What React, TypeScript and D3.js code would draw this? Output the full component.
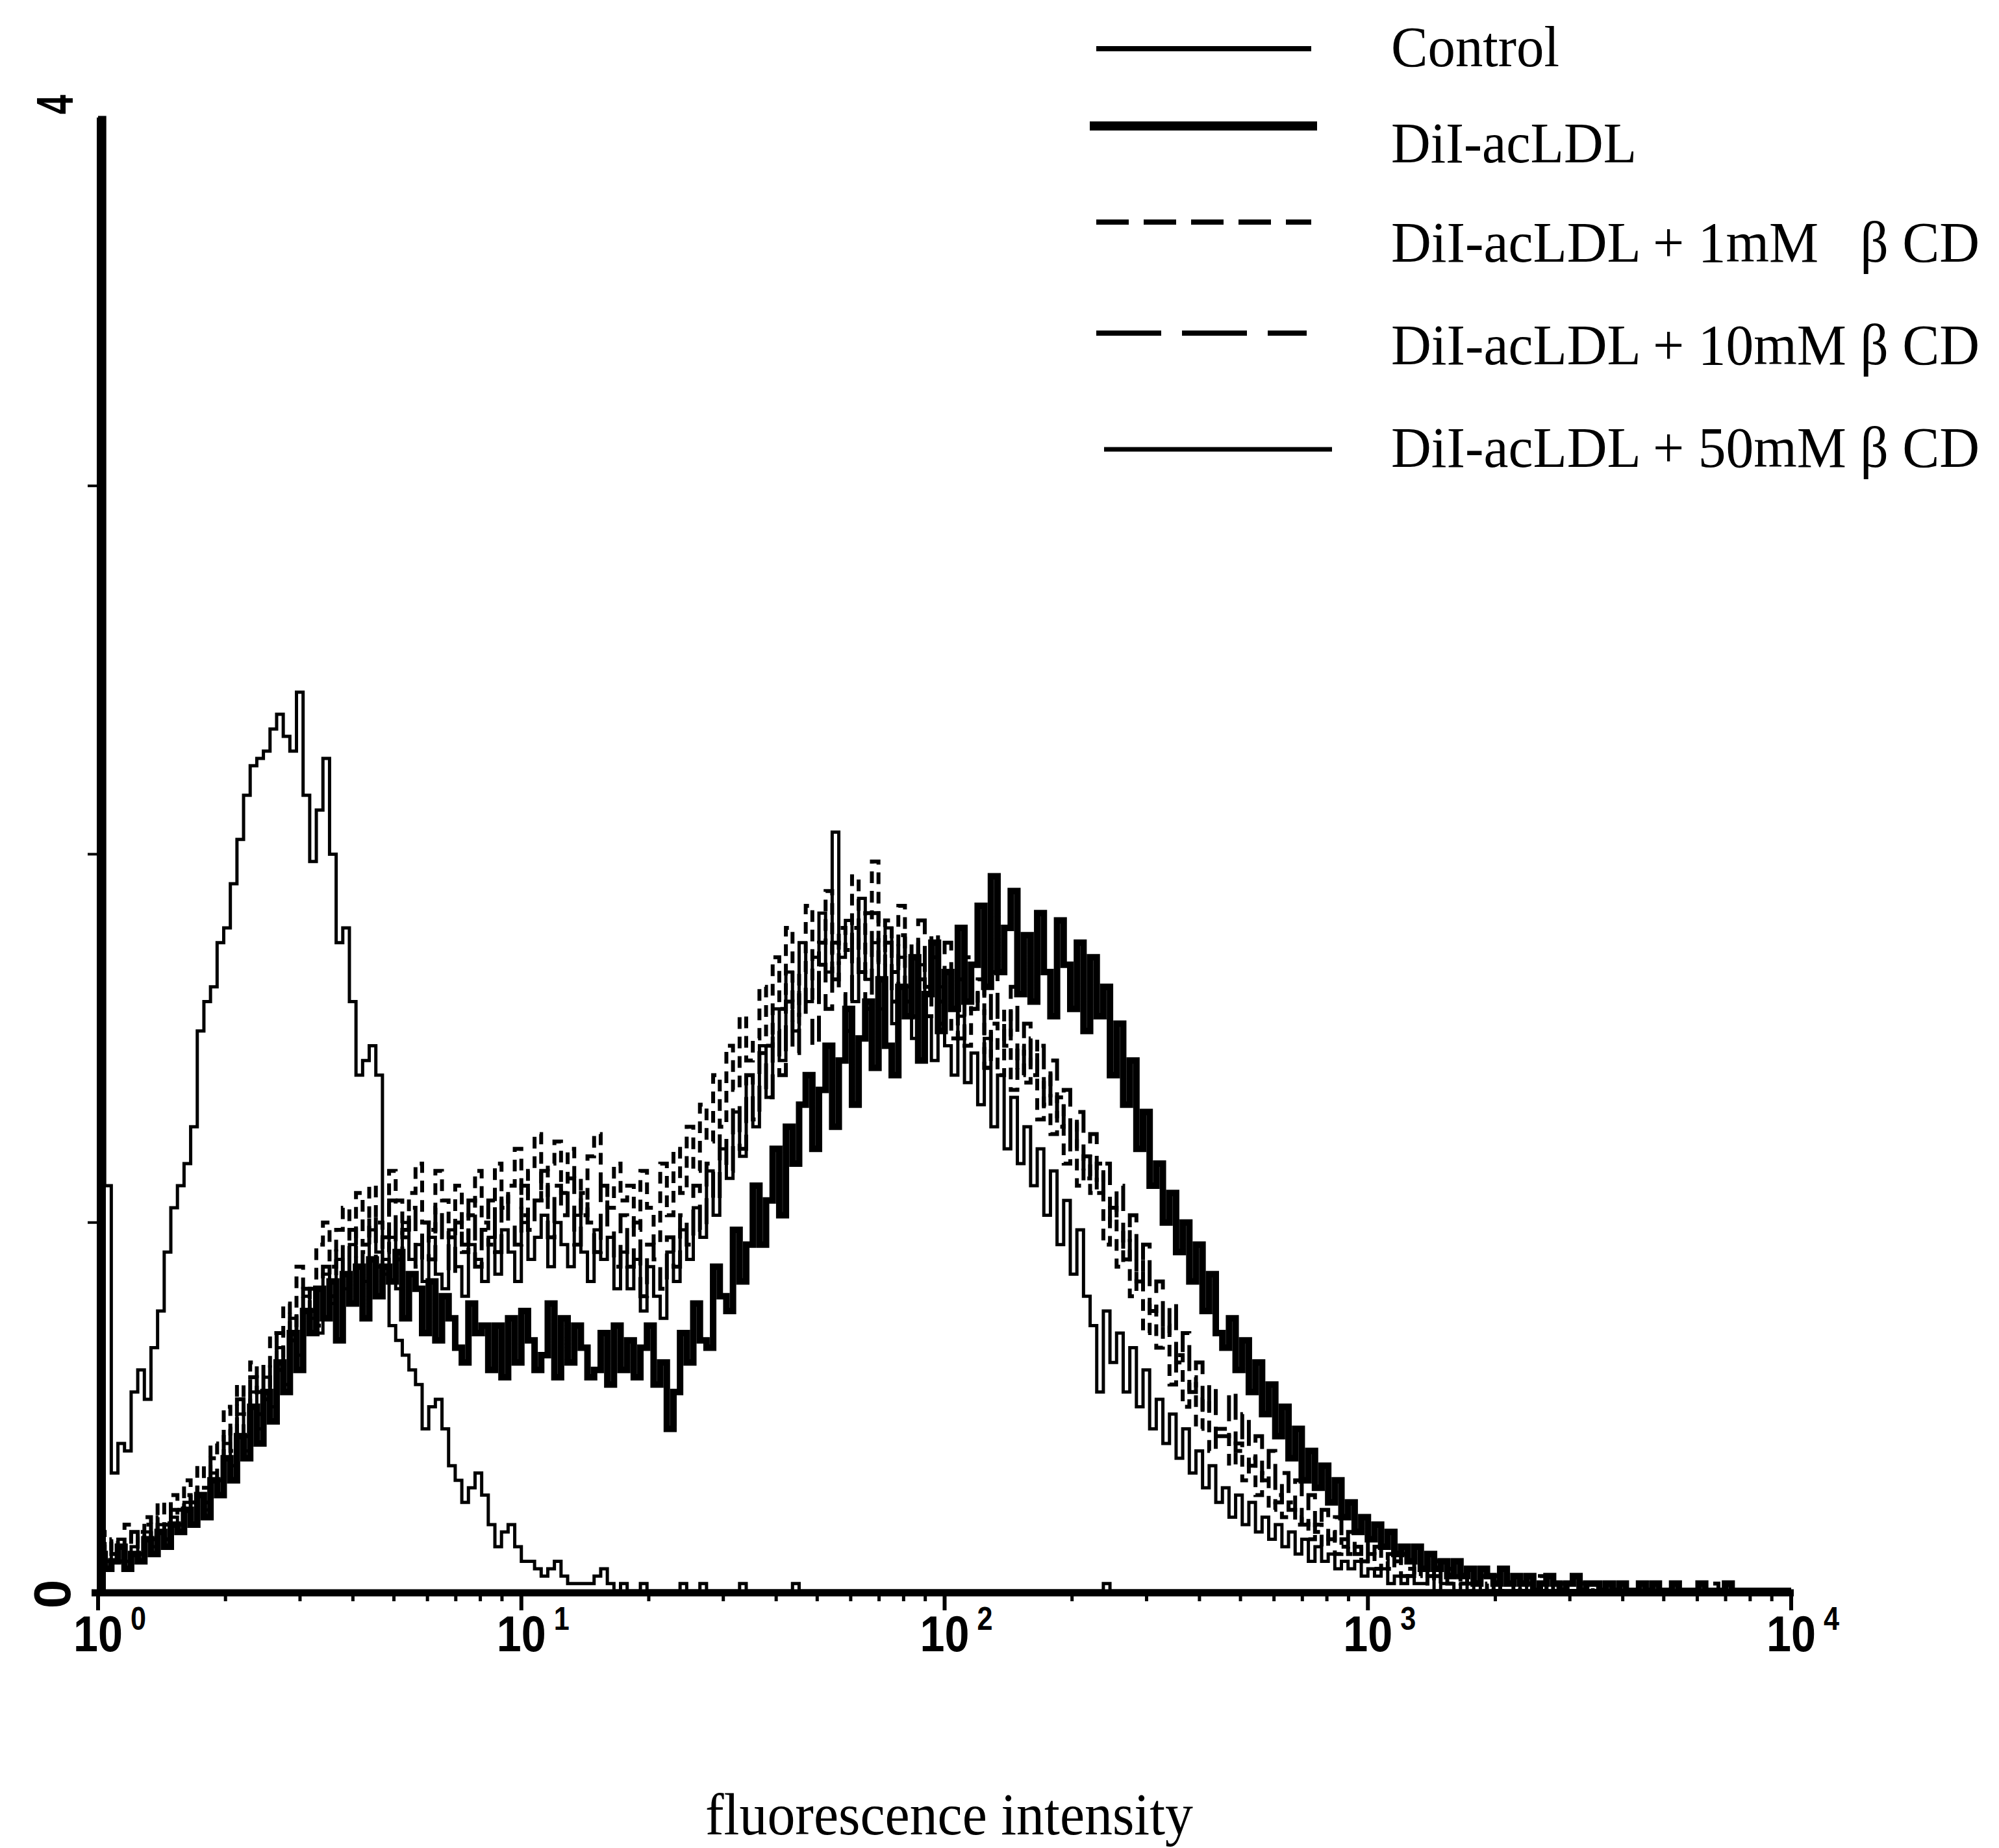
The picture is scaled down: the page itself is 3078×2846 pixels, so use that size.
import React from "react";
import * as d3 from "d3";

// ---- data (256 log channels over 4 decades, counts scaled so axis top = 200) ----
const SERIES_NAMES = [
  "Control",
  "DiI-acLDL",
  "DiI-acLDL + 1mM   β CD",
  "DiI-acLDL + 10mM β CD",
  "DiI-acLDL + 50mM β CD",
];

const CONTROL = [
  200, 55, 16, 20, 19, 27, 30, 26, 33, 38,
  46, 52, 55, 58, 63, 76, 80, 82, 88, 90,
  96, 102, 108, 112, 113, 114, 117, 119, 116, 114,
  122, 108, 99, 106, 113, 100, 88, 90, 80, 70,
  72, 74, 70, 45, 36, 34, 32, 30, 28, 22,
  25, 26, 22, 17, 15, 12, 14, 16, 13, 9,
  6, 8, 9, 6, 4, 4, 3, 2, 3, 4,
  2, 1, 1, 1, 1, 2, 3, 1, 0, 1,
  0, 0, 1, 0, 0, 0, 0, 0, 1, 0,
  0, 1, 0, 0, 0, 0, 0, 1, 0, 0,
  0, 0, 0, 0, 0, 1, 0, 0, 0, 0,
  0, 0, 0, 0, 0, 0, 0, 0, 0, 0,
  0, 0, 0, 0, 0, 0, 0, 0, 0, 0,
  0, 0, 0, 0, 0, 0, 0, 0, 0, 0,
  0, 0, 0, 0, 0, 0, 0, 0, 0, 0,
  0, 0, 1, 0, 0, 0, 0, 0, 0, 0,
  0, 0, 0, 0, 0, 0, 0, 0, 0, 0,
  0, 0, 0, 0, 0, 0, 0, 0, 0, 0,
  0, 0, 0, 0, 0, 0, 0, 0, 0, 0,
  0, 0, 0, 0, 0, 0, 0, 0, 0, 0,
  0, 0, 0, 0, 0, 0, 0, 0, 0, 0,
  0, 0, 0, 0, 0, 0, 0, 0, 0, 0,
  0, 0, 0, 0, 0, 0, 0, 0, 0, 0,
  0, 0, 0, 0, 0, 0, 0, 0, 0, 0,
  0, 0, 0, 0, 0, 0, 0, 0, 0, 0,
  0, 0, 0, 0, 0, 0,
];

const DIL = [
  5, 3, 4, 6, 3, 5, 4, 7, 5, 8,
  6, 9, 8, 11, 9, 13, 10, 15, 13, 18,
  15, 21, 18, 25, 20, 27, 23, 31, 27, 35,
  30, 38, 35, 41, 37, 42, 34, 43, 39, 44,
  37, 45, 40, 44, 42, 46, 37, 43, 41, 35,
  42, 34, 40, 37, 33, 31, 39, 35, 36, 30,
  36, 29, 37, 31, 38, 34, 30, 32, 39, 29,
  37, 31, 36, 33, 29, 30, 35, 28, 36, 30,
  34, 29, 33, 36, 28, 31, 22, 27, 35, 31,
  39, 34, 33, 44, 40, 38, 49, 42, 47, 55,
  47, 53, 60, 51, 63, 58, 66, 70, 60, 68,
  74, 63, 72, 79, 66, 75, 80, 71, 83, 74,
  70, 82, 78, 86, 72, 81, 88, 76, 84, 79,
  90, 80, 85, 93, 82, 97, 84, 90, 95, 81,
  89, 80, 92, 84, 78, 91, 85, 79, 88, 76,
  86, 78, 82, 70, 77, 66, 72, 60, 65, 55,
  58, 50, 54, 46, 50, 42, 47, 38, 43, 35,
  33, 37, 30, 34, 27, 31, 24, 28, 21, 25,
  18, 22, 15, 19, 14, 17, 12, 15, 10, 12,
  8, 10, 7, 9, 6, 8, 5, 6, 4, 6,
  3, 5, 3, 4, 2, 4, 2, 3, 1, 3,
  2, 1, 3, 1, 2, 1, 2, 0, 1, 2,
  1, 0, 1, 2, 0, 1, 1, 0, 1, 0,
  1, 0, 0, 1, 0, 1, 0, 0, 1, 0,
  0, 0, 1, 0, 0, 0, 1, 0, 0, 0,
  0, 0, 0, 0, 0, 0,
];

const MM1 = [
  8, 5, 7, 4, 9, 6, 8, 10, 7, 12,
  9, 13, 11, 15, 12, 17, 14, 20, 18, 25,
  21, 28, 24, 31, 27, 26, 35, 30, 39, 34,
  44, 38, 41, 47, 50, 44, 49, 52, 45, 54,
  47, 55, 50, 46, 57, 53, 48, 54, 58, 50,
  49, 57, 53, 48, 55, 46, 51, 57, 50, 47,
  58, 52, 55, 60, 51, 57, 62, 53, 58, 61,
  54, 60, 56, 51, 59, 62, 55, 52, 58, 53,
  55, 49, 57, 52, 47, 58, 51, 60, 54, 63,
  57, 66, 61, 70, 63, 74, 68, 78, 72, 75,
  82, 74, 86, 79, 90, 77, 84, 93, 80, 88,
  95, 83, 90, 87, 97, 84, 92, 99, 85, 91,
  84, 93, 80, 88, 83, 78, 89, 80, 84, 75,
  83, 74, 79, 82, 71, 77, 70, 79, 68, 74,
  69, 75, 64, 70, 62, 67, 58, 64, 55, 59,
  54, 58, 47, 52, 44, 49, 40, 45, 35, 39,
  33, 36, 28, 32, 25, 29, 22, 26, 19, 22,
  22, 17, 20, 15, 18, 13, 16, 11, 13, 10,
  12, 9, 10, 7, 9, 6, 8, 5, 7, 5,
  6, 4, 5, 3, 4, 3, 4, 2, 3, 2,
  3, 1, 2, 2, 1, 2, 1, 1, 2, 0,
  1, 2, 0, 1, 1, 0, 1, 0, 0, 1,
  0, 1, 0, 0, 1, 0, 0, 0, 1, 0,
  0, 0, 0, 1, 0, 0, 0, 0, 0, 0,
  0, 0, 0, 0, 1, 0, 0, 0, 0, 0,
  0, 0, 0, 0, 0, 0,
];

const MM10 = [
  4, 7, 5, 3, 6, 8, 5, 9, 6, 10,
  7, 11, 9, 13, 10, 14, 12, 18, 15, 22,
  19, 26, 21, 29, 24, 31, 27, 35, 29, 38,
  34, 41, 38, 36, 44, 40, 47, 43, 49, 42,
  46, 51, 44, 48, 53, 45, 49, 52, 44, 50,
  45, 52, 48, 43, 50, 47, 53, 44, 49, 53,
  46, 54, 50, 47, 55, 49, 53, 57, 48, 55,
  51, 56, 47, 54, 50, 46, 55, 49, 44, 51,
  44, 50, 40, 47, 45, 41, 48, 44, 51, 47,
  55, 49, 58, 53, 62, 57, 66, 60, 70, 64,
  73, 67, 76, 70, 80, 73, 82, 78, 74, 85,
  79, 88, 81, 76, 90, 84, 79, 92, 83, 88,
  80, 89, 85, 78, 91, 82, 86, 77, 88, 81,
  75, 86, 79, 83, 71, 84, 77, 74, 82, 70,
  77, 70, 74, 66, 72, 63, 68, 60, 65, 56,
  62, 54, 58, 50, 55, 45, 51, 42, 47, 38,
  42, 35, 39, 31, 35, 27, 31, 24, 28, 21,
  21, 27, 19, 24, 17, 21, 15, 19, 12, 16,
  11, 15, 9, 13, 8, 11, 7, 10, 6, 8,
  5, 7, 4, 6, 4, 5, 3, 5, 2, 4,
  3, 2, 4, 1, 3, 2, 1, 3, 1, 2,
  1, 0, 2, 1, 0, 1, 1, 0, 2, 0,
  0, 1, 0, 1, 0, 0, 1, 0, 0, 0,
  1, 0, 0, 0, 0, 1, 0, 0, 0, 0,
  0, 0, 0, 0, 0, 0, 0, 1, 0, 0,
  0, 0, 0, 0, 0, 0,
];

const MM50 = [
  6, 4, 5, 7, 4, 6, 5, 8, 6, 9,
  7, 10, 8, 12, 9, 13, 11, 16, 13, 20,
  17, 24, 19, 27, 22, 29, 25, 33, 28, 37,
  32, 40, 37, 35, 43, 39, 45, 41, 47, 44,
  42, 49, 46, 43, 48, 41, 50, 45, 47, 42,
  48, 43, 41, 49, 44, 40, 47, 45, 42, 48,
  43, 49, 46, 42, 50, 45, 48, 51, 44, 50,
  47, 44, 51, 46, 42, 49, 45, 48, 41, 46,
  41, 45, 38, 44, 40, 37, 46, 42, 49, 45,
  52, 48, 57, 51, 60, 56, 65, 59, 70, 63,
  74, 67, 79, 72, 84, 76, 88, 80, 86, 92,
  84, 103, 86, 91, 80, 94, 83, 88, 79, 90,
  77, 86, 82, 75, 85, 78, 72, 82, 74, 70,
  78, 69, 73, 66, 75, 63, 70, 60, 67, 58,
  63, 55, 60, 51, 57, 47, 53, 43, 49, 40,
  36, 27, 38, 31, 35, 27, 33, 25, 30, 22,
  26, 20, 24, 18, 22, 16, 19, 14, 17, 12,
  14, 10, 13, 9, 12, 8, 10, 7, 9, 6,
  8, 5, 7, 4, 6, 4, 5, 3, 4, 3,
  4, 2, 3, 2, 3, 1, 2, 1, 2, 1,
  1, 2, 0, 1, 1, 0, 1, 0, 1, 0,
  0, 1, 0, 0, 0, 1, 0, 0, 0, 0,
  0, 0, 0, 0, 0, 0, 0, 0, 0, 0,
  0, 0, 0, 0, 0, 0, 0, 0, 0, 0,
  0, 0, 0, 0, 0, 0, 0, 0, 0, 0,
  0, 0, 0, 0, 0, 0,
];

const X_TICK_EXPONENTS = ["0", "1", "2", "3", "4"];
const X_TITLE = "fluorescence intensity";
const Y_LABEL_BOTTOM = "0";
const Y_LABEL_TOP = "4";

// ---- layout ----
const W = 3078;
const H = 2846;
const X0 = 151;
const X1 = 2758;
const Y0 = 2450;
const YTOP = 181;
const NCH = 256;

const chan = d3.scaleLinear().domain([0, NCH]).range([X0, X1]);
const xLog = d3.scaleLog().domain([1, 1e4]).range([X0, X1]);
const y = d3.scaleLinear().domain([0, 200]).range([Y0, YTOP]);

const stepLine = d3
  .line<number>()
  .x((_, i) => chan(i))
  .y((d) => y(d))
  .curve(d3.curveStepAfter);

const pathFor = (vals: number[]) => stepLine([...vals, vals[vals.length - 1]]) || "";

const SERIES_DATA = [CONTROL, DIL, MM1, MM10, MM50];
const PLOT_STYLE = [
  { w: 5, dash: undefined as string | undefined },
  { w: 10, dash: undefined },
  { w: 6, dash: "18 12" },
  { w: 6, dash: "40 18" },
  { w: 5, dash: undefined },
];
const LEGEND_STYLE = [
  { x1: 1688, x2: 2019, y: 75, w: 8, dash: undefined as string | undefined, ty: 102, tl: 259 },
  { x1: 1678, x2: 2028, y: 194, w: 14, dash: undefined, ty: 250, tl: 378 },
  { x1: 1688, x2: 2019, y: 342, w: 8, dash: "50 23", ty: 403, tl: 906 },
  { x1: 1688, x2: 2012, y: 513, w: 8, dash: "100 32", ty: 561, tl: 906 },
  { x1: 1700, x2: 2051, y: 692, w: 7, dash: undefined, ty: 719, tl: 906 },
];

export default function App() {
  const decades = [0, 1, 2, 3];
  const minor: number[] = [];
  decades.forEach((k) => {
    for (let m = 2; m <= 9; m++) minor.push(m * Math.pow(10, k));
  });
  const major = X_TICK_EXPONENTS.map((e) => Math.pow(10, +e));
  const drawOrder = [1, 3, 2, 4, 0];

  return (
    <svg
      width={W}
      height={H}
      viewBox={`0 0 ${W} ${H}`}
      style={{ position: "absolute", left: 0, top: 0, background: "#fff" }}
    >
      <rect x={0} y={0} width={W} height={H} fill="#fff" />

      {/* curves */}
      {drawOrder.map((si) => (
        <path
          key={si}
          d={pathFor(SERIES_DATA[si])}
          fill="none"
          stroke="#000"
          strokeWidth={PLOT_STYLE[si].w}
          strokeDasharray={PLOT_STYLE[si].dash}
          strokeLinejoin="miter"
          strokeLinecap="butt"
        />
      ))}

      {/* y axis (merged with first-channel spike, as in the scan) */}
      <line x1={X0 + 5} x2={X0 + 5} y1={YTOP} y2={Y0 + 8} stroke="#000" strokeWidth={14} />
      {[50, 100, 150].map((v) => (
        <line key={v} x1={X0 - 16} x2={X0} y1={y(v)} y2={y(v)} stroke="#000" strokeWidth={4} />
      ))}

      {/* x axis */}
      <line x1={X0 - 10} x2={X1 + 4} y1={Y0 + 3} y2={Y0 + 3} stroke="#000" strokeWidth={11} />
      {minor.map((v, i) => (
        <line key={"mn" + i} x1={xLog(v)} x2={xLog(v)} y1={Y0 + 3} y2={Y0 + 16} stroke="#000" strokeWidth={5} />
      ))}
      {major.map((v, i) => (
        <line key={"mj" + i} x1={xLog(v)} x2={xLog(v)} y1={Y0 + 3} y2={Y0 + 30} stroke="#000" strokeWidth={6} />
      ))}
      {major.map((v, i) => (
        <g key={"lb" + i} fontFamily="'Liberation Sans', Arial, sans-serif" fontWeight="bold" fill="#000">
          <text
            x={xLog(v) - 38}
            y={2543}
            fontSize={78}
            textLength={76}
            lengthAdjust="spacingAndGlyphs"
          >
            10
          </text>
          <text x={xLog(v) + 50} y={2510} fontSize={50} textLength={24} lengthAdjust="spacingAndGlyphs">
            {X_TICK_EXPONENTS[i]}
          </text>
        </g>
      ))}

      {/* y labels (rotated) */}
      <text
        transform={`translate(108, ${y(0) + 5}) rotate(-90)`}
        textAnchor="middle"
        fontSize={80}
        fontWeight="bold"
        fontFamily="'Liberation Sans', Arial, sans-serif"
      >
        {Y_LABEL_BOTTOM}
      </text>
      <text
        transform={`translate(112, ${y(200) - 20}) rotate(-90)`}
        textAnchor="middle"
        fontSize={80}
        fontWeight="bold"
        textLength={30}
        lengthAdjust="spacingAndGlyphs"
        fontFamily="'Liberation Sans', Arial, sans-serif"
      >
        {Y_LABEL_TOP}
      </text>

      {/* x title */}
      <text
        x={1086}
        y={2825}
        fontSize={92}
        fontFamily="'Liberation Serif', 'Times New Roman', serif"
        textLength={751}
        lengthAdjust="spacingAndGlyphs"
      >
        {X_TITLE}
      </text>

      {/* legend */}
      {SERIES_NAMES.map((name, i) => {
        const s = LEGEND_STYLE[i];
        return (
          <g key={"lg" + i}>
            <line
              x1={s.x1}
              x2={s.x2}
              y1={s.y}
              y2={s.y}
              stroke="#000"
              strokeWidth={s.w}
              strokeDasharray={s.dash}
            />
            <text
              x={2142}
              y={s.ty}
              fontSize={88}
              fontFamily="'Liberation Serif', 'Times New Roman', serif"
              textLength={s.tl}
              lengthAdjust="spacingAndGlyphs"
              style={{ whiteSpace: "pre" }}
            >
              {name}
            </text>
          </g>
        );
      })}
    </svg>
  );
}
